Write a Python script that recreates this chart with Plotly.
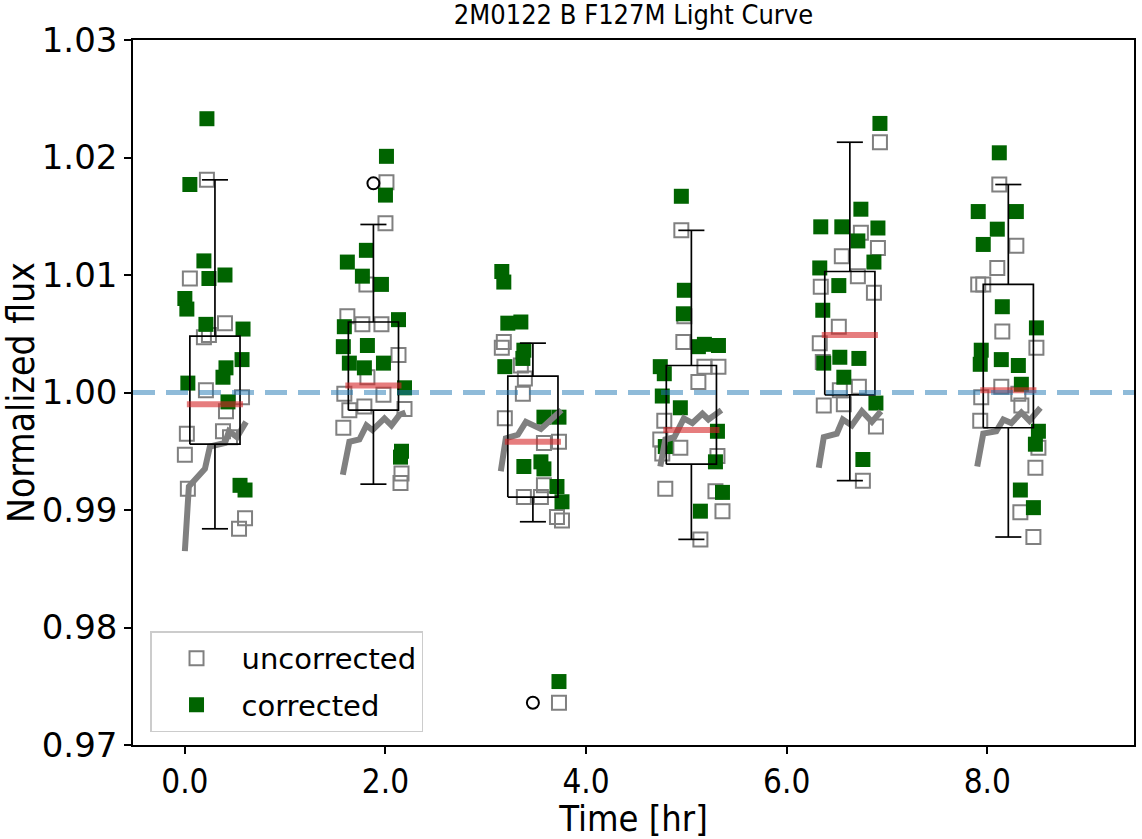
import plotly.graph_objects as go

# ---------------- data ----------------
# uncorrected photometry (time [hr], normalized flux)
unc_time = [0.22, 0.05, 0.40, 0.19, 0.24, 0.21, 0.57, 0.41, 0.02, 0.38, 0.00, 0.03, 0.60, 0.54, 0.45,
            2.01, 2.00, 1.81, 1.62, 1.77, 1.96, 2.13, 1.82, 1.59, 1.98, 1.64, 1.79, 2.19, 1.58, 2.16, 2.15,
            3.18, 3.16, 3.35, 3.39, 3.37, 3.19, 3.58, 3.73, 3.58, 3.38, 3.55, 3.71, 3.76, 3.73,
            4.95, 4.97, 4.98, 5.18, 5.32, 5.12, 4.78, 4.74, 4.76, 4.94, 5.31, 4.79, 5.29, 5.36, 5.14,
            6.93, 6.74, 6.91, 6.55, 6.71, 6.34, 6.87, 6.52, 6.33, 6.36, 6.53, 6.72, 6.37, 6.57, 6.89, 6.76,
            8.12, 8.29, 8.10, 7.91, 7.96, 8.15, 8.49, 8.14, 8.31, 7.94, 8.34, 7.93, 8.51, 8.48, 8.33, 8.46]
unc_flux = [1.0181, 1.0097, 1.0059, 1.0047, 1.0049, 1.0002, 0.9996, 0.9984, 0.9965, 0.9967, 0.9947, 0.9918, 0.9893, 0.9884, 0.9962,
            1.0179, 1.0144, 1.0092, 1.0065, 1.0058, 1.0058, 1.0032, 1.0013, 0.9999, 0.9998, 0.9985, 0.9988, 0.9986, 0.9970, 0.9931, 0.9923,
            1.0043, 1.0038, 1.0023, 1.0012, 0.9999, 0.9978, 0.9957, 0.9958, 0.9921, 0.9911, 0.9911, 0.9894, 0.9891, 0.9736,
            1.0138, 1.0043, 1.0065, 1.0022, 1.0022, 1.0009, 0.9976, 0.9960, 0.9948, 0.9953, 0.9946, 0.9918, 0.9916, 0.9899, 0.9875,
            1.0213, 1.0136, 1.0123, 1.0116, 1.0099, 1.0090, 1.0085, 1.0056, 1.0042, 1.0026, 1.0002, 1.0005, 0.9989, 0.9990, 0.9971, 0.9925,
            1.0177, 1.0125, 1.0106, 1.0092, 1.0092, 1.0052, 1.0038, 1.0005, 0.9999, 0.9996, 0.9989, 0.9976, 0.9953, 0.9936, 0.9898, 0.9877]

# corrected photometry
cor_time = [0.22, 0.05, 0.19, 0.24, 0.40, 0.00, 0.02, 0.21, 0.58, 0.57, 0.41, 0.38, 0.03, 0.43, 0.55, 0.60,
            2.01, 2.00, 1.81, 1.62, 1.77, 1.96, 2.13, 1.59, 1.58, 1.82, 1.64, 1.79, 1.98, 2.19, 2.16, 2.15,
            3.16, 3.18, 3.22, 3.35, 3.38, 3.37, 3.19, 3.58, 3.73, 3.38, 3.55, 3.58, 3.71, 3.76, 3.73,
            4.95, 4.98, 4.97, 5.12, 5.18, 5.32, 4.74, 4.78, 4.76, 4.94, 5.31, 4.79, 5.29, 5.36, 5.14,
            6.93, 6.74, 6.34, 6.55, 6.91, 6.71, 6.87, 6.33, 6.52, 6.36, 6.37, 6.53, 6.72, 6.57, 6.89, 6.76,
            8.12, 7.91, 8.29, 8.10, 7.96, 8.15, 8.49, 7.94, 7.93, 8.14, 8.31, 8.34, 8.51, 8.48, 8.33, 8.46]
cor_flux = [1.0233, 1.0177, 1.0112, 1.0097, 1.0100, 1.0080, 1.0071, 1.0058, 1.0054, 1.0028, 1.0021, 1.0013, 1.0008, 0.9992, 0.9921, 0.9917,
            1.0201, 1.0168, 1.0121, 1.0111, 1.0099, 1.0092, 1.0062, 1.0056, 1.0039, 1.0040, 1.0025, 1.0021, 1.0025, 1.0004, 0.9950, 0.9945,
            1.0103, 1.0094, 1.0059, 1.0060, 1.0036, 1.0029, 1.0022, 0.9979, 0.9979, 0.9937, 0.9941, 0.9935, 0.9920, 0.9907, 0.9754,
            1.0167, 1.0087, 1.0067, 1.0039, 1.0041, 1.0040, 1.0022, 1.0016, 0.9997, 0.9987, 0.9967, 0.9954, 0.9941, 0.9915, 0.9899,
            1.0229, 1.0156, 1.0141, 1.0141, 1.0140, 1.0129, 1.0111, 1.0106, 1.0091, 1.0070, 1.0025, 1.0030, 1.0029, 1.0013, 0.9991, 0.9943,
            1.0204, 1.0154, 1.0154, 1.0139, 1.0126, 1.0073, 1.0055, 1.0036, 1.0024, 1.0028, 1.0023, 1.0007, 0.9967, 0.9956, 0.9917, 0.9902]

# ramp model per orbit
ramp_time = [[0.00, 0.04, 0.20, 0.25, 0.40, 0.44, 0.52, 0.61],
             [1.575, 1.64, 1.74, 1.81, 1.87, 1.99, 2.06, 2.14, 2.20],
             [3.15, 3.20, 3.32, 3.40, 3.55, 3.68, 3.755],
             [4.74, 4.79, 4.88, 4.975, 5.06, 5.16, 5.22, 5.35],
             [6.32, 6.37, 6.50, 6.56, 6.65, 6.75, 6.85, 6.94],
             [7.90, 7.96, 8.09, 8.16, 8.24, 8.34, 8.42, 8.53]]
ramp_flux = [[0.9865, 0.9920, 0.9935, 0.9954, 0.9957, 0.9967, 0.9962, 0.9975],
             [0.9930, 0.9958, 0.9960, 0.9972, 0.9968, 0.9978, 0.9972, 0.9981, 0.9983],
             [0.9933, 0.9961, 0.9964, 0.9975, 0.9969, 0.9979, 0.9985],
             [0.9937, 0.9960, 0.9962, 0.9978, 0.9974, 0.9982, 0.9977, 0.9985],
             [0.9936, 0.9962, 0.9965, 0.9977, 0.9972, 0.9984, 0.9975, 0.9984],
             [0.9937, 0.9965, 0.9967, 0.9977, 0.9974, 0.9983, 0.9976, 0.9987]]

# box statistics per orbit
box_time = [0.30, 1.88, 3.47, 5.05, 6.63, 8.21]
box_lo = [0.9884, 0.9922, 0.9890, 0.9875, 0.9925, 0.9877]
box_q1 = [0.9956, 0.9985, 0.9911, 0.9939, 0.9998, 0.9970]
box_med = [0.9990, 1.0006, 0.9958, 0.9968, 1.0049, 1.0002]
box_q3 = [1.0048, 1.0060, 1.0014, 1.0023, 1.0103, 1.0092]
box_hi = [1.0181, 1.0143, 1.0042, 1.0138, 1.0213, 1.0177]
outlier_time = [1.88, 3.47]
outlier_flux = [1.0178, 0.9736]

x_ticks = [0, 2, 4, 6, 8]
y_ticks = [0.97, 0.98, 0.99, 1.00, 1.01, 1.02, 1.03]

# ---------------- styling ----------------
BOX_HALF = 0.25
CAP_HALF = 0.13
MED_HALF = 0.28
FONT = "DejaVu Sans"
COND = "DejaVu Sans Condensed, Liberation Sans Narrow, DejaVu Sans"

fig = go.Figure()

fig.add_trace(go.Scatter(x=unc_time, y=unc_flux, mode="markers", name="uncorrected",
                         marker=dict(symbol="square-open", size=14, color="rgb(128,128,128)",
                                     line=dict(width=2, color="rgb(128,128,128)")),
                         legendgroup="a"))
fig.add_trace(go.Scatter(x=cor_time, y=cor_flux, mode="markers", name="corrected",
                         marker=dict(symbol="square", size=15, color="rgb(0,100,0)", line=dict(width=0)),
                         legendgroup="b"))

rx, ry = [], []
for t, f in zip(ramp_time, ramp_flux):
    rx += t + [None]
    ry += f + [None]
fig.add_trace(go.Scatter(x=rx, y=ry, mode="lines", showlegend=False,
                         line=dict(color="rgb(128,128,128)", width=6)))

bx, by = [], []
for c, lo, q1, q3, hi in zip(box_time, box_lo, box_q1, box_q3, box_hi):
    bx += [c - BOX_HALF, c + BOX_HALF, c + BOX_HALF, c - BOX_HALF, c - BOX_HALF, None]
    by += [q1, q1, q3, q3, q1, None]
    bx += [c, c, None, c - CAP_HALF, c + CAP_HALF, None]
    by += [q3, hi, None, hi, hi, None]
    bx += [c, c, None, c - CAP_HALF, c + CAP_HALF, None]
    by += [q1, lo, None, lo, lo, None]
fig.add_trace(go.Scatter(x=bx, y=by, mode="lines", showlegend=False,
                         line=dict(color="black", width=1.7)))

mx, my = [], []
for c, m in zip(box_time, box_med):
    mx += [c - MED_HALF, c + MED_HALF, None]
    my += [m, m, None]
fig.add_trace(go.Scatter(x=mx, y=my, mode="lines", showlegend=False,
                         line=dict(color="rgba(214,39,40,0.6)", width=6)))

fig.add_trace(go.Scatter(x=outlier_time, y=outlier_flux, mode="markers", showlegend=False,
                         marker=dict(symbol="circle-open", size=12, color="black",
                                     line=dict(width=2, color="black"))))

fig.add_trace(go.Scatter(x=[-0.517, 9.463], y=[1.0, 1.0], mode="lines", showlegend=False,
                         line=dict(color="rgba(31,119,180,0.5)", width=5, dash="22px,11px")))

fig.update_layout(
    width=1142, height=839,
    margin=dict(l=133, r=6, t=40, b=94),
    paper_bgcolor="white", plot_bgcolor="white",
    font=dict(family=FONT, color="black"),
    title=dict(text="2M0122 B F127M Light Curve", x=0.5, xref="paper", xanchor="center",
               y=0.983, yref="container", yanchor="middle",
               font=dict(family=COND, size=27, color="black")),
    showlegend=True,
    legend=dict(x=0.017, y=0.018, xanchor="left", yanchor="bottom",
                bgcolor="rgba(255,255,255,0.8)", bordercolor="#cccccc", borderwidth=1.5,
                font=dict(family=FONT, size=29, color="black"),
                traceorder="grouped", tracegroupgap=6, itemwidth=80),
)
fig.update_xaxes(range=[-0.517, 9.463], tickvals=x_ticks, tickformat=".1f",
                 ticks="outside", ticklen=7, tickwidth=1.5, tickcolor="black",
                 showline=True, linecolor="black", linewidth=1.5, mirror=True,
                 showgrid=False, zeroline=False,
                 tickfont=dict(family=COND, size=33, color="black"),
                 title=dict(text="Time [hr]", font=dict(family=COND, size=36, color="black"), standoff=2))
fig.update_yaxes(range=[0.97, 1.03], tickvals=y_ticks, tickformat=".2f",
                 ticks="outside", ticklen=7, tickwidth=1.5, tickcolor="black",
                 showline=True, linecolor="black", linewidth=1.5, mirror=True,
                 showgrid=False, zeroline=False,
                 tickfont=dict(family=FONT, size=34, color="black"),
                 title=dict(text="Normalized flux", font=dict(family=COND, size=37, color="black"), standoff=8))

fig.write_html("out.html")
